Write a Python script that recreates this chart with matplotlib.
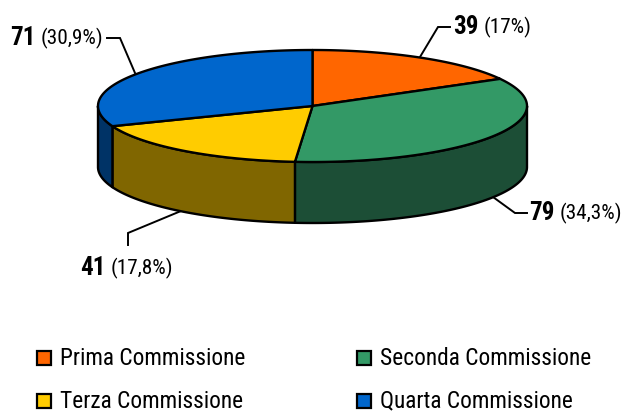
import numpy as np
import matplotlib
matplotlib.use("Agg")
import matplotlib.pyplot as plt
from matplotlib.patches import Rectangle
from matplotlib import font_manager as fm

categories = ["Prima Commissione", "Seconda Commissione", "Terza Commissione", "Quarta Commissione"]
values = [39, 79, 41, 71]
percent_labels = ["(17%)", "(34,3%)", "(17,8%)", "(30,9%)"]
top_colors = ["#FF6600", "#339966", "#FFCC00", "#0066CC"]
side_colors = ["#803300", "#1C4E36", "#806600", "#003366"]

installed = {f.name for f in fm.fontManager.ttflist}
narrow = "Roboto Condensed" in installed
plt.rcParams["font.family"] = (["Roboto Condensed", "Liberation Sans", "DejaVu Sans"] if narrow
                               else ["Liberation Sans", "DejaVu Sans"])
FS_LEGEND, FS_VALUE, FS_PCT = (16.8, 18, 15.3) if narrow else (15, 15.5, 13)

fig = plt.figure(figsize=(6.26, 4.15), dpi=100)
ax = fig.add_axes([0, 0, 1, 1])
ax.set_xlim(0, 626)
ax.set_ylim(415, 0)
ax.axis("off")

CX, CY, RX, RY, DEPTH = 312.5, 106, 214.5, 56, 61
LW = 1.7


def ell(a):
    return CX + RX * np.sin(a), CY - RY * np.cos(a)


edges = np.concatenate([[0], np.cumsum(values)]) / sum(values) * 2 * np.pi

# side walls (only the front half, pi/2 .. 3pi/2 clockwise from the top)
for i in range(len(values)):
    a0, a1 = max(edges[i], np.pi / 2), min(edges[i + 1], 3 * np.pi / 2)
    if a1 <= a0:
        continue
    t = np.linspace(a0, a1, 120)
    x, y = ell(t)
    ax.fill(np.r_[x, x[::-1]], np.r_[y, y[::-1] + DEPTH], fc=side_colors[i],
            ec="black", lw=LW, joinstyle="round", zorder=2)

# top faces
for i in range(len(values)):
    t = np.linspace(edges[i], edges[i + 1], 200)
    x, y = ell(t)
    ax.fill(np.r_[CX, x], np.r_[CY, y], fc=top_colors[i], ec="black", lw=LW,
            joinstyle="round", zorder=3)

# leader lines
leaders = [
    ([420, 438, 450], [57, 27, 27]),
    ([493, 515, 527], [197, 213, 213]),
    ([181, 128, 128], [211, 233, 245]),
    ([135, 120, 107], [73, 38, 38]),
]
for lx, ly in leaders:
    ax.plot(lx, ly, color="black", lw=1.4, zorder=1, solid_joinstyle="miter")

# value labels
label_pos = [(453, 27), (529, 213), (80, 268), (10, 38)]
for (x, y), v, p in zip(label_pos, values, percent_labels):
    t = ax.text(x, y, str(v), fontsize=FS_VALUE, fontweight="bold", va="center", ha="left", color="black")
    fig.canvas.draw()
    bb = t.get_window_extent().transformed(ax.transData.inverted())
    ax.text(bb.x1 + 5, y, p, fontsize=FS_PCT, va="center", ha="left", color="black")

# legend
legend_pos = [(37, 358), (357, 358), (37, 401), (357, 401)]
for (x, y), name, c in zip(legend_pos, categories, top_colors):
    ax.add_patch(Rectangle((x, y - 7), 14, 14, fc=c, ec="black", lw=1.6))
    ax.text(x + 23, y, name, fontsize=FS_LEGEND, va="center", ha="left", color="black")

fig.savefig("out.png", dpi=100)
